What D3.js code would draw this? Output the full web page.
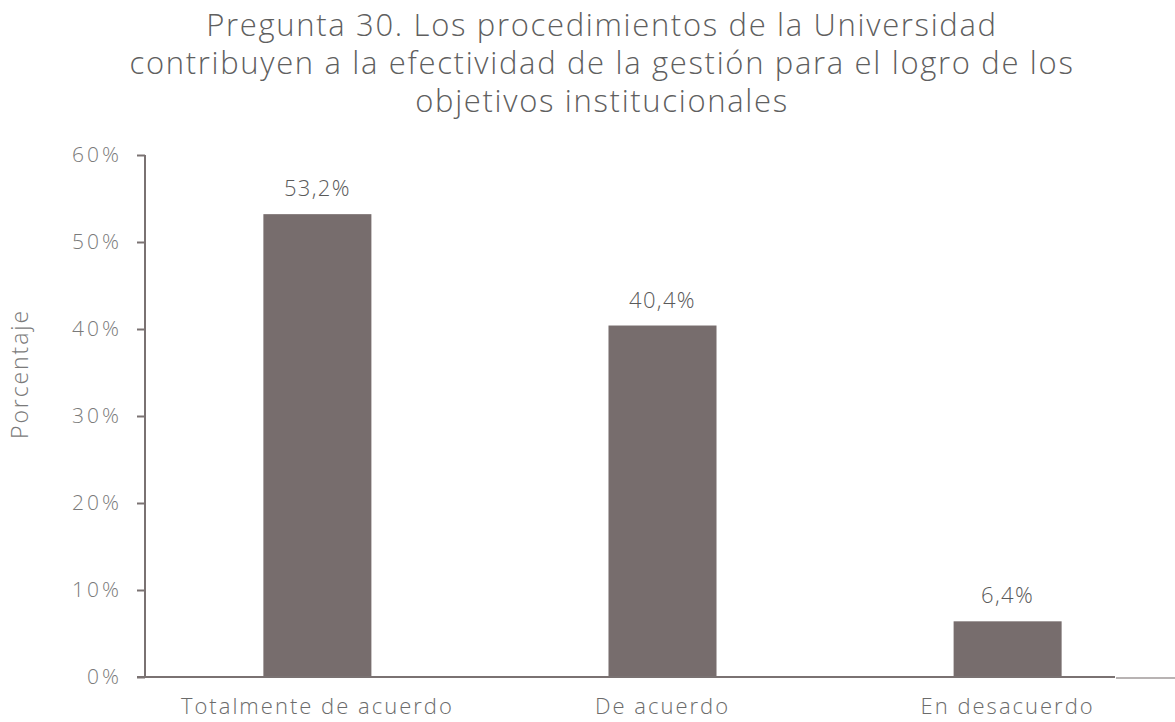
<!DOCTYPE html>
<html><head><meta charset="utf-8">
<script src="https://cdn.jsdelivr.net/npm/d3@7"></script>
<style>body{margin:0;background:#fff;} svg{display:block;}</style>
</head><body>
<script>
const categories = ["Totalmente de acuerdo", "De acuerdo", "En desacuerdo"];
const values = [53.2, 40.4, 6.4];
const valueLabels = ["53,2%", "40,4%", "6,4%"];
const yTicks = [0, 10, 20, 30, 40, 50, 60];
const titleLines = ["Pregunta 30. Los procedimientos de la Universidad",
  "contribuyen a la efectividad de la gestión para el logro de los",
  "objetivos institucionales"];

const W = 1175, H = 722;
const font = "'Open Sans', 'Noto Sans', sans-serif";
const svg = d3.select("body").append("svg").attr("width", W).attr("height", H);

// stretch a text selection with letter-spacing so that the reference element reaches a target width
function fitSpacing(sel, refIndex, target) {
  const n = sel.nodes()[refIndex];
  const len = n.getComputedTextLength();
  const chars = n.textContent.length;
  sel.attr("letter-spacing", (target - len) / chars);
}

const x = d3.scaleBand().domain(categories).range([145, 1180]).paddingInner(0.687).paddingOuter(0.343);
const y = d3.scaleLinear().domain([0, 60]).range([677, 155]);

// title
const title = svg.append("g").selectAll("text").data(titleLines).join("text")
  .attr("x", 602).attr("y", (d, i) => 36 + i * 38)
  .attr("text-anchor", "middle").attr("font-family", font).attr("font-size", 31)
  .attr("font-weight", 300)
  .attr("fill", "#5f5f5f").text(d => d);
fitSpacing(title, 1, 945);

// bars
svg.append("g").selectAll("rect").data(values).join("rect")
  .attr("x", (d, i) => x(categories[i]))
  .attr("width", x.bandwidth())
  .attr("y", d => y(d))
  .attr("height", d => y(0) - y(d))
  .attr("fill", "#776d6d");

// value labels
const vl = svg.append("g").selectAll("text").data(values).join("text")
  .attr("x", (d, i) => x(categories[i]) + x.bandwidth() / 2)
  .attr("y", d => y(d) - 18)
  .attr("text-anchor", "middle").attr("font-family", font).attr("font-size", 22)
  .attr("font-weight", 300)
  .attr("fill", "#5a5a5a").text((d, i) => valueLabels[i]);
fitSpacing(vl, 0, 67);

// y axis
const yAxis = svg.append("g").attr("transform", "translate(145,0)")
  .call(d3.axisLeft(y).tickValues(yTicks).tickFormat(d => d + "%").tickSize(8).tickPadding(15));
yAxis.select(".domain").attr("stroke", "#7a7272").attr("stroke-width", 2).attr("d", `M0,${y(60)}V${y(0)}`);
yAxis.selectAll(".tick line").attr("stroke", "#7a7272").attr("stroke-width", 2);
const yt = yAxis.selectAll(".tick text").attr("font-family", font).attr("font-size", 21)
  .attr("font-weight", 300).attr("fill", "#7a7a7a");
fitSpacing(yt, 6, 50);

// x axis
const xAxis = svg.append("g").attr("transform", `translate(0,${y(0)})`)
  .call(d3.axisBottom(x).tickSize(0).tickPadding(21));
xAxis.select(".domain").attr("stroke", "#7a7272").attr("stroke-width", 2).attr("d", `M137,0H1115`);
const xt = xAxis.selectAll(".tick text").attr("font-family", font).attr("font-size", 22)
  .attr("font-weight", 300).attr("fill", "#6b6b6b");
fitSpacing(xt, 0, 273);
svg.append("line").attr("x1", 1116).attr("x2", 1175).attr("y1", y(0) + 1).attr("y2", y(0) + 1)
  .attr("stroke", "#a09a9a").attr("stroke-width", 1.5);

// y label
const yl = svg.append("text").attr("transform", `translate(28,374) rotate(-90)`)
  .attr("text-anchor", "middle").attr("font-family", font).attr("font-size", 23)
  .attr("font-weight", 300)
  .attr("fill", "#7a7a7a").text("Porcentaje");
fitSpacing(yl, 0, 130);
</script>
</body></html>
